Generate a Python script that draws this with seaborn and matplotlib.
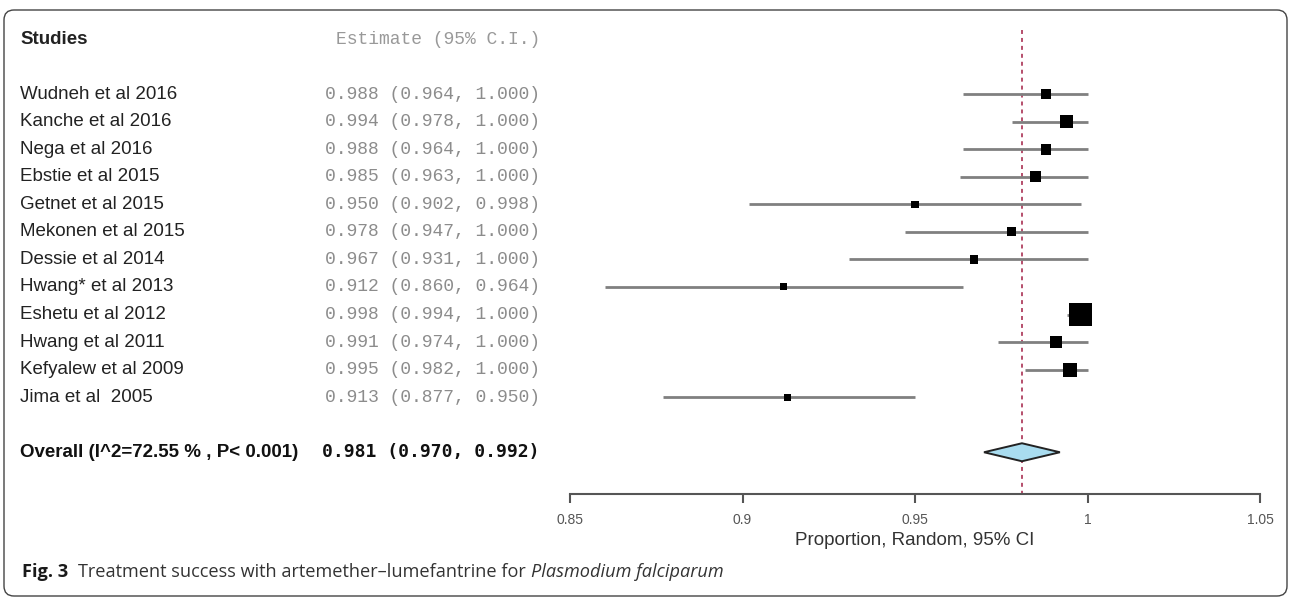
import numpy as np
import pandas as pd
import matplotlib
matplotlib.use("Agg")
import matplotlib.pyplot as plt
import matplotlib.transforms as mtransforms
from matplotlib.patches import Polygon, FancyBboxPatch
import seaborn as sns

# study level data
studies = ["Wudneh et al 2016", "Kanche et al 2016", "Nega et al 2016",
           "Ebstie et al 2015", "Getnet et al 2015", "Mekonen et al 2015",
           "Dessie et al 2014", "Hwang* et al 2013", "Eshetu et al 2012",
           "Hwang et al 2011", "Kefyalew et al 2009", "Jima et al  2005"]
est = [0.988, 0.994, 0.988, 0.985, 0.950, 0.978, 0.967, 0.912, 0.998, 0.991, 0.995, 0.913]
lower = [0.964, 0.978, 0.964, 0.963, 0.902, 0.947, 0.931, 0.860, 0.994, 0.974, 0.982, 0.877]
upper = [1.000, 1.000, 1.000, 1.000, 0.998, 1.000, 1.000, 0.964, 1.000, 1.000, 1.000, 0.950]
# relative weights (%)
weights = [8.0, 10.0, 8.0, 8.0, 5.5, 6.8, 6.2, 5.3, 17.3, 9.0, 10.5, 5.3]

overall_est = 0.981
overall_lo = 0.970
overall_hi = 0.992
i2 = 72.55
p_text = "P< 0.001"

x_ticks = [0.85, 0.9, 0.95, 1.0, 1.05]
x_ticklabels = ["0.85", "0.9", "0.95", "1", "1.05"]
xlabel = "Proportion, Random, 95% CI"

sns.set_style("white")
plt.rcParams["font.family"] = ["Liberation Sans", "DejaVu Sans"]

W, H = 1290, 597
fig = plt.figure(figsize=(W / 100, H / 100), dpi=100)


def fx(px):
    return px / W


def fy(py):
    return 1 - py / H


row0, row_h = 39, 27.55


def r_of(py):
    return (py - row0) / row_h


ax = fig.add_axes([fx(570), fy(494), fx(1260) - fx(570), (494 - 25) / H])
ax.set_xlim(0.85, 1.05)
ax.set_ylim(r_of(494), r_of(25))

df = pd.DataFrame({"study": studies, "est": est, "lo": lower, "hi": upper,
                   "w": weights})
df["row"] = np.arange(len(df)) + 2
overall_row = len(df) + 3

# reference line at pooled estimate
ax.vlines(overall_est, r_of(30), r_of(494), colors="#b04060",
          linestyles=(0, (2.2, 2.2)), lw=1.3, zorder=1)

# confidence intervals and boxes
ax.hlines(df["row"], df["lo"], df["hi"], color="#808080", lw=2, zorder=2)
side_px = df["w"].to_numpy() * 23 / max(weights)
sns.scatterplot(data=df, x="est", y="row", marker="s", s=(side_px * 0.72) ** 2,
                color="black", edgecolor="none", linewidth=0, legend=False,
                ax=ax, zorder=3)

# pooled diamond
dh = 9 / row_h
ax.add_patch(Polygon([[overall_lo, overall_row], [overall_est, overall_row - dh],
                      [overall_hi, overall_row], [overall_est, overall_row + dh]],
                     closed=True, facecolor="#a9dcef", edgecolor="#222222",
                     lw=1.4, zorder=3))

ax.set_xlabel("")
ax.set_ylabel("")
sns.despine(ax=ax, left=True, top=True, right=True)
ax.spines["bottom"].set_color("#555555")
ax.spines["bottom"].set_linewidth(1.5)
ax.set_yticks([])
ax.set_xticks(x_ticks, x_ticklabels)
ax.tick_params(axis="x", direction="out", length=6.5, width=1.5, color="#555555",
               labelsize=10, labelcolor="#555555", pad=7, bottom=True)
ax.set_xlabel(xlabel, fontsize=13.5, color="#333333")
ax.xaxis.set_label_coords(0.5, -(532 - 494) / 469)

# text columns
trans = mtransforms.blended_transform_factory(fig.transFigure, ax.transData)
ax.text(fx(20), 0, "Studies", transform=trans, fontsize=13.5, fontweight="bold",
        color="#222222", ha="left", va="center")
ax.text(fx(540), 0, "Estimate (95% C.I.)", transform=trans, family="Liberation Mono",
        fontsize=13, color="#999999", ha="right", va="center")
for _, r in df.iterrows():
    ax.text(fx(20), r["row"], r["study"], transform=trans, fontsize=13.5,
            color="#222222", ha="left", va="center")
    ax.text(fx(540), r["row"], f"{r['est']:.3f} ({r['lo']:.3f}, {r['hi']:.3f})",
            transform=trans, family="Liberation Mono", fontsize=13,
            color="#8c8c8c", ha="right", va="center")
ax.text(fx(20), overall_row, f"Overall (I^2={i2:.2f} % , {p_text})", transform=trans,
        fontsize=13.5, fontweight="bold", color="#111111", ha="left", va="center")
ax.text(fx(540), overall_row, f"{overall_est:.3f} ({overall_lo:.3f}, {overall_hi:.3f})",
        transform=trans, family="DejaVu Sans Mono", fontsize=13, fontweight="bold",
        color="#111111", ha="right", va="center")

# caption
rend = fig.canvas.get_renderer()
t1 = fig.text(fx(22), fy(572), "Fig. 3", family="Open Sans", fontweight="bold",
              fontsize=13.1, color="#1a1a1a", va="center")
x1 = t1.get_window_extent(rend).x1
t2 = fig.text((x1 + 10) / W, fy(572), "Treatment success with artemether\u2013lumefantrine for ",
              family="Open Sans", fontsize=13.1, color="#333333", va="center")
x2 = t2.get_window_extent(rend).x1
fig.text(x2 / W, fy(572), "Plasmodium falciparum", family="Open Sans", style="italic",
         fontsize=13.1, color="#333333", va="center")

# rounded frame
fig.add_artist(FancyBboxPatch((4, 1), 1283, 586, boxstyle="round,pad=0,rounding_size=10",
                              transform=mtransforms.IdentityTransform(), fill=False,
                              ec="#444444", lw=1))

fig.savefig("out.png", dpi=100)
